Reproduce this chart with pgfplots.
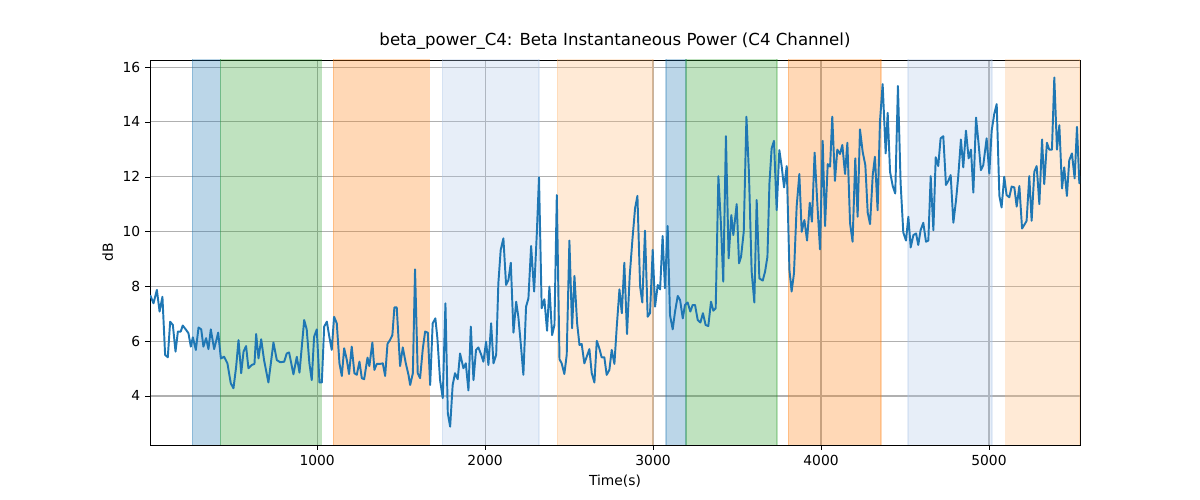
\documentclass[border=0pt]{standalone}
\usepackage{pgfplots}
\pgfplotsset{compat=1.18}
\usepackage{fontspec}
\setmainfont{DejaVu Sans}
\definecolor{cA}{HTML}{1F77B4}
\definecolor{cB}{HTML}{2CA02C}
\definecolor{cC}{HTML}{FF7F0E}
\definecolor{cD}{HTML}{AEC7E8}
\definecolor{cE}{HTML}{FFBB78}
\begin{document}
\begin{tikzpicture}
\begin{axis}[name=ax, scale only axis, width=9.3in, height=3.85in,
 xmin=5, xmax=5542, ymin=2.21, ymax=16.26,
 xtick={1000,2000,3000,4000,5000}, ytick={4,6,8,10,12,14,16},
 xtick pos=bottom, ytick pos=left,
 grid=major, grid style={color=black!31, line width=0.8pt},
 tick style={black}, tick align=outside, major tick length=3.5pt,
 /pgf/number format/assume math mode=true,
 /pgf/number format/1000 sep={},
 ticklabel style={font=\fontsize{10}{12}\selectfont},
 xlabel={Time(s)}, ylabel={dB},
 label style={font=\fontsize{10}{12}\selectfont},
 title={beta\_power\_C4: Beta Instantaneous Power (C4 Channel)},
 title style={font=\fontsize{12}{14}\selectfont, yshift=-2pt},
 clip=true]
\def\sp#1#2#3{\addplot[draw=#3, draw opacity=0.3, fill=#3, fill opacity=0.3, line width=0.8pt] coordinates {(#1,0) (#1,20) (#2,20) (#2,0)} -- cycle;}
\sp{256}{423}{cA}
\sp{423}{1024}{cB}
\sp{1095}{1667}{cC}
\sp{1744}{2321}{cD}
\sp{2429}{3000}{cE}
\sp{3077}{3196}{cA}
\sp{3196}{3738}{cB}
\sp{3804}{4357}{cC}
\sp{4518}{5018}{cD}
\sp{5101}{5542}{cE}
\addplot[cA, line width=1.4pt, line join=round] coordinates {
(6,7.68)(26,7.38)(46,7.87)(62,7.08)(79,7.62)(95,5.5)(111,5.41)(125,6.71)(141,6.59)(157,5.62)(171,6.35)(188,6.35)(200,6.57)(220,6.41)(234,6.29)(248,5.8)(260,6.14)(278,5.68)(294,6.5)(310,6.43)(323,5.8)(339,6.11)(353,5.71)(367,6.43)(387,5.71)(411,6.31)(427,5.37)(446,5.43)(466,5.19)(486,4.46)(502,4.28)(518,5.07)(532,6.04)(548,4.83)(562,5.62)(577,5.82)(591,5.01)(611,5.13)(627,5.17)(637,6.26)(651,5.37)(667,6.07)(684,5.31)(710,4.49)(740,5.95)(760,5.31)(780,5.23)(804,5.25)(819,5.55)(833,5.59)(859,4.79)(879,5.43)(895,4.85)(923,6.77)(938,6.43)(954,5.19)(968,4.58)(982,6.16)(998,6.43)(1014,4.49)(1028,4.49)(1042,6.53)(1058,6.71)(1071,6.22)(1087,5.68)(1101,6.89)(1117,6.65)(1133,5.19)(1147,4.73)(1161,5.74)(1177,5.31)(1190,4.8)(1206,5.8)(1222,4.83)(1236,4.77)(1252,5.25)(1266,4.65)(1280,4.61)(1300,5.4)(1311,5.09)(1329,5.95)(1341,4.95)(1355,5.17)(1375,5.17)(1391,5.19)(1405,4.73)(1419,5.9)(1434,6.04)(1448,6.22)(1460,7.23)(1474,7.23)(1494,5.09)(1510,5.77)(1528,5.19)(1544,4.77)(1554,4.4)(1570,4.83)(1583,8.62)(1599,4.83)(1613,4.65)(1629,5.71)(1643,6.35)(1659,6.31)(1673,4.4)(1688,6.65)(1704,6.83)(1716,6.11)(1732,4.58)(1748,3.92)(1764,7.38)(1778,3.37)(1792,2.88)(1807,4.4)(1821,4.83)(1837,4.61)(1851,5.55)(1871,5.01)(1885,5.19)(1901,4.2)(1915,6.53)(1931,4.58)(1946,5.68)(1960,5.77)(1976,5.52)(1990,5.25)(2006,5.98)(2020,5.13)(2036,6.65)(2050,5.19)(2066,5.5)(2079,8.11)(2093,9.33)(2109,9.75)(2125,8.05)(2139,8.23)(2153,8.86)(2169,6.31)(2185,7.44)(2198,6.89)(2214,5.8)(2228,4.77)(2244,7.26)(2258,7.56)(2274,9.47)(2292,7.81)(2308,9.93)(2321,11.98)(2337,7.2)(2353,7.53)(2369,6.38)(2383,7.99)(2399,6.22)(2413,6.59)(2427,11.33)(2443,5.34)(2456,5.19)(2472,4.8)(2486,5.5)(2502,9.67)(2518,6.47)(2532,8.38)(2548,6.65)(2562,5.86)(2575,5.9)(2591,5.19)(2605,5.43)(2621,5.71)(2635,4.83)(2651,4.49)(2665,6.01)(2680,5.74)(2694,5.41)(2710,5.41)(2724,4.77)(2740,4.95)(2754,5.68)(2770,5.17)(2784,6.53)(2800,7.89)(2814,7.02)(2829,8.86)(2845,6.26)(2861,8.38)(2877,9.69)(2893,10.85)(2907,11.3)(2923,7.99)(2936,7.41)(2952,10.03)(2968,6.89)(2982,7.02)(2998,9.33)(3012,7.26)(3028,8.05)(3042,7.89)(3057,9.84)(3071,7.93)(3087,10.2)(3101,6.95)(3117,6.43)(3131,7.08)(3147,7.65)(3161,7.5)(3177,6.83)(3190,7.32)(3206,7.41)(3222,7.08)(3236,7.32)(3250,7.32)(3266,6.77)(3282,6.68)(3297,7.02)(3313,6.59)(3329,6.55)(3345,7.44)(3359,7.11)(3373,7.2)(3389,12.02)(3405,10.18)(3418,8.17)(3434,13.48)(3450,9.02)(3466,10.6)(3478,9.87)(3498,11.0)(3512,8.84)(3524,9.08)(3540,9.99)(3556,14.19)(3571,12.12)(3587,8.54)(3603,7.41)(3617,11.15)(3633,8.29)(3653,8.21)(3667,8.54)(3681,9.08)(3693,11.76)(3706,13.03)(3720,13.31)(3736,10.78)(3752,12.97)(3766,12.37)(3780,11.61)(3796,12.39)(3812,8.6)(3825,7.81)(3839,8.47)(3855,10.91)(3871,12.1)(3885,9.99)(3901,10.42)(3917,9.67)(3933,11.05)(3946,10.36)(3962,12.88)(3978,11.03)(3994,9.35)(4010,13.31)(4024,10.2)(4040,12.46)(4054,12.37)(4067,14.19)(4083,11.85)(4097,12.99)(4113,12.83)(4127,13.16)(4143,12.1)(4157,13.24)(4173,10.3)(4188,9.63)(4204,12.67)(4218,10.54)(4232,13.73)(4248,12.91)(4264,12.42)(4278,10.69)(4292,10.27)(4308,12.06)(4321,12.73)(4337,10.78)(4351,14.01)(4367,15.38)(4385,12.85)(4397,14.33)(4411,12.18)(4427,11.66)(4442,11.39)(4458,15.31)(4474,11.76)(4490,9.96)(4506,9.67)(4520,10.54)(4534,9.42)(4550,9.87)(4566,9.93)(4579,9.51)(4593,10.05)(4609,10.32)(4625,9.63)(4639,9.67)(4653,12.02)(4669,10.05)(4683,12.71)(4698,12.39)(4712,13.4)(4728,13.48)(4744,11.7)(4758,11.85)(4772,12.06)(4788,10.32)(4804,11.15)(4817,12.0)(4833,13.36)(4847,12.34)(4863,13.68)(4879,12.67)(4893,12.99)(4907,11.42)(4923,14.16)(4938,13.22)(4952,12.24)(4966,12.42)(4986,13.4)(5002,12.12)(5016,13.68)(5032,14.31)(5046,14.65)(5062,11.3)(5075,10.88)(5091,12.0)(5105,11.33)(5121,11.25)(5135,11.64)(5151,11.61)(5165,10.91)(5181,11.66)(5197,10.11)(5210,10.24)(5224,10.39)(5240,12.02)(5254,10.39)(5270,12.18)(5284,12.39)(5300,11.0)(5316,13.36)(5329,11.73)(5345,13.24)(5359,12.99)(5375,12.99)(5389,15.62)(5405,12.99)(5419,13.88)(5435,11.57)(5448,12.34)(5464,11.3)(5478,12.6)(5494,12.85)(5510,11.94)(5524,13.82)(5538,11.76)(5542,11.9)
};
\end{axis}
\path[use as bounding box] ([shift={(-1.5in,-0.55in)}]ax.south west) rectangle ([shift={(1.2in,0.6in)}]ax.north east);
\end{tikzpicture}
\end{document}
